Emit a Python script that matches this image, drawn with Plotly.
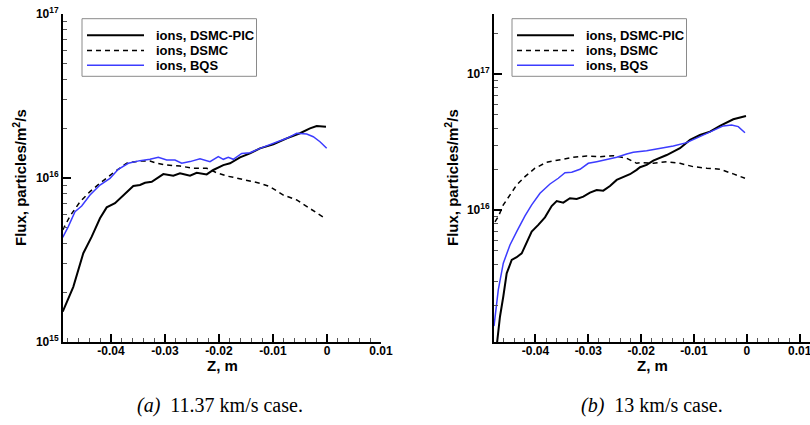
import plotly.graph_objects as go

# ---------------- data: panel (a) 11.37 km/s ----------------
z_pic_a = [-0.04894, -0.04698, -0.04513, -0.04357, -0.04204, -0.04080, -0.03926, -0.03802,
           -0.03587, -0.03463, -0.03370, -0.03246, -0.03031, -0.02846, -0.02722, -0.02537,
           -0.02413, -0.02228, -0.02106, -0.01920, -0.01796, -0.01611, -0.01426, -0.01241,
           -0.00994, -0.00746, -0.00500, -0.00315, -0.00191, -0.00019]
flux_pic_a = [1.53e15, 2.17e15, 3.48e15, 4.39e15, 5.68e15, 6.62e15, 7.02e15, 7.69e15,
              8.93e15, 9.06e15, 9.35e15, 9.48e15, 1.057e16, 1.033e16, 1.069e16, 1.033e16,
              1.076e16, 1.052e16, 1.119e16, 1.199e16, 1.230e16, 1.337e16, 1.413e16, 1.517e16,
              1.603e16, 1.746e16, 1.875e16, 2.009e16, 2.075e16, 2.056e16]

z_dsmc_a = [-0.04894, -0.04759, -0.04574, -0.04389, -0.04204, -0.03957, -0.03709, -0.03463,
            -0.03278, -0.03154, -0.02969, -0.02722, -0.02476, -0.02228, -0.02043, -0.01857,
            -0.01735, -0.01487, -0.01241, -0.01056, -0.00809, -0.00561, -0.00315, -0.00037]
flux_dsmc_a = [4.82e15, 5.86e15, 7.16e15, 8.26e15, 9.29e15, 1.076e16, 1.230e16, 1.271e16,
               1.271e16, 1.230e16, 1.199e16, 1.183e16, 1.146e16, 1.146e16, 1.076e16, 1.028e16,
               1.009e16, 9.73e15, 9.29e15, 8.85e15, 7.87e15, 7.35e15, 6.53e15, 5.68e15]

z_bqs_a = [-0.04894, -0.04791, -0.04667, -0.04543, -0.04389, -0.04204, -0.04019, -0.03865,
           -0.03680, -0.03463, -0.03278, -0.03124, -0.02969, -0.02815, -0.02691, -0.02537,
           -0.02352, -0.02167, -0.02013, -0.01920, -0.01828, -0.01735, -0.01580, -0.01426,
           -0.01241, -0.00994, -0.00746, -0.00561, -0.00376, -0.00254, -0.00130, -0.00006]
flux_bqs_a = [4.35e15, 5.05e15, 6.24e15, 6.75e15, 7.87e15, 9.06e15, 9.95e15, 1.130e16,
              1.230e16, 1.276e16, 1.300e16, 1.337e16, 1.288e16, 1.288e16, 1.230e16, 1.259e16,
              1.312e16, 1.259e16, 1.349e16, 1.300e16, 1.337e16, 1.300e16, 1.413e16, 1.426e16,
              1.517e16, 1.626e16, 1.746e16, 1.875e16, 1.854e16, 1.786e16, 1.663e16, 1.517e16]

# ---------------- data: panel (b) 13 km/s ----------------
z_pic_b = [-0.04733, -0.04671, -0.04608, -0.04544, -0.04449, -0.04355, -0.04260, -0.04166,
           -0.04071, -0.03946, -0.03820, -0.03693, -0.03598, -0.03473, -0.03347, -0.03220,
           -0.03095, -0.02968, -0.02842, -0.02717, -0.02590, -0.02463, -0.02338, -0.02212,
           -0.02085, -0.02022, -0.01896, -0.01771, -0.01517, -0.01266, -0.01076, -0.00887,
           -0.00698, -0.00509, -0.00257, -0.00017]
flux_pic_b = [1.0e15, 1.64e15, 2.31e15, 3.42e15, 4.29e15, 4.49e15, 4.80e15, 5.69e15,
              6.93e15, 7.76e15, 8.83e15, 1.069e16, 1.164e16, 1.132e16, 1.219e16, 1.205e16,
              1.253e16, 1.340e16, 1.403e16, 1.387e16, 1.500e16, 1.663e16, 1.738e16, 1.831e16,
              1.972e16, 2.061e16, 2.143e16, 2.307e16, 2.535e16, 2.844e16, 3.273e16, 3.556e16,
              3.767e16, 4.150e16, 4.645e16, 4.909e16]

z_dsmc_b = [-0.04766, -0.04703, -0.04608, -0.04482, -0.04355, -0.04198, -0.04009, -0.03787,
            -0.03536, -0.03284, -0.03031, -0.02779, -0.02527, -0.02274, -0.02085, -0.02022,
            -0.01771, -0.01517, -0.01266, -0.01014, -0.00760, -0.00509, -0.00257, -0.00036]
flux_dsmc_b = [8.17e15, 8.93e15, 1.089e16, 1.288e16, 1.528e16, 1.758e16, 2.028e16, 2.244e16,
               2.333e16, 2.438e16, 2.495e16, 2.466e16, 2.506e16, 2.399e16, 2.203e16, 2.228e16,
               2.203e16, 2.265e16, 2.203e16, 2.080e16, 2.028e16, 1.991e16, 1.841e16, 1.710e16]

z_bqs_b = [-0.04784, -0.04703, -0.04608, -0.04482, -0.04355, -0.04198, -0.04071, -0.03914,
           -0.03725, -0.03568, -0.03441, -0.03314, -0.03157, -0.03000, -0.02842, -0.02652,
           -0.02463, -0.02274, -0.02149, -0.01896, -0.01644, -0.01392, -0.01139, -0.00887,
           -0.00636, -0.00446, -0.00288, -0.00163, -0.00036]
flux_bqs_b = [1.40e15, 2.58e15, 4.06e15, 5.53e15, 6.93e15, 9.04e15, 1.089e16, 1.327e16,
              1.552e16, 1.710e16, 1.879e16, 1.892e16, 1.991e16, 2.203e16, 2.265e16, 2.360e16,
              2.438e16, 2.582e16, 2.655e16, 2.729e16, 2.844e16, 2.958e16, 3.126e16, 3.459e16,
              3.873e16, 4.150e16, 4.217e16, 4.102e16, 3.698e16]

# ---------------- ticks / labels ----------------
series_names = ["ions, DSMC-PIC", "ions, DSMC", "ions, BQS"]
x_tick_vals = [-0.04, -0.03, -0.02, -0.01, 0.0, 0.01]
x_tick_text = ["-0.04", "-0.03", "-0.02", "-0.01", "0", "0.01"]
x_minor_vals = [-0.048, -0.046, -0.044, -0.042, -0.038, -0.036, -0.034, -0.032,
                -0.028, -0.026, -0.024, -0.022, -0.018, -0.016, -0.014, -0.012,
                -0.008, -0.006, -0.004, -0.002, 0.002, 0.004, 0.006, 0.008, 0.012]
y_tick_vals = [1e15, 1e16, 1e17]
y_tick_text = ["10<sup>15</sup>", "10<sup>16</sup>", "10<sup>17</sup>"]
y_minor_vals = [m * 10 ** e for e in (15, 16, 17) for m in range(2, 10)]
captions = ["<i>(a)</i>  11.37 km/s case.", "<i>(b)</i>  13 km/s case."]
x_title = "Z, m"
y_title = "Flux, particles/m<sup>2</sup>/s"

W, H = 810, 425
SANS = "Liberation Sans"
BLUE = "#3c3cff"
STYLES = [dict(color="black", width=2),
          dict(color="black", width=1.5, dash="5px,4px"),
          dict(color=BLUE, width=1.5)]

fig = go.Figure()

def add_panel(zs, fl, xa, ya):
    for name, z, f, st in zip(series_names, zs, fl, STYLES):
        fig.add_trace(go.Scatter(x=z, y=f, mode="lines", name=name, line=st,
                                 xaxis=xa, yaxis=ya, showlegend=False))

add_panel([z_pic_a, z_dsmc_a, z_bqs_a], [flux_pic_a, flux_dsmc_a, flux_bqs_a], "x", "y")
add_panel([z_pic_b, z_dsmc_b, z_bqs_b], [flux_pic_b, flux_dsmc_b, flux_bqs_b], "x2", "y2")

tickfont = dict(family=SANS, size=12, color="black", weight="bold")

def xaxis(domain, rng, anchor):
    return dict(domain=domain, range=rng, anchor=anchor, showline=True, linecolor="black",
                linewidth=2, ticks="inside", ticklen=8, tickwidth=2, tickcolor="black",
                tickmode="array", tickvals=x_tick_vals, ticktext=x_tick_text,
                minor=dict(tickmode="array", tickvals=x_minor_vals, ticks="inside",
                           ticklen=4, tickwidth=1, tickcolor="#555"),
                showgrid=False, zeroline=False, tickfont=tickfont, automargin=False,
                ticklabeloverflow="allow", ticklabelstandoff=-3)

def yaxis(domain, rng, anchor):
    return dict(domain=domain, range=rng, anchor=anchor, type="log", showline=True,
                linecolor="black", linewidth=2, ticks="inside", ticklen=8, tickwidth=2,
                tickcolor="black", tickmode="array", tickvals=y_tick_vals, ticktext=y_tick_text,
                minor=dict(tickmode="array", tickvals=y_minor_vals, ticks="inside",
                           ticklen=4, tickwidth=1, tickcolor="#555"),
                showgrid=False, zeroline=False, tickfont=tickfont, automargin=False,
                ticklabeloverflow="allow")

ydom = [(H - 342) / H, (H - 14) / H]

fig.update_layout(
    width=W, height=H, margin=dict(l=0, r=0, t=0, b=0, autoexpand=False),
    paper_bgcolor="white", plot_bgcolor="white", showlegend=False,
    xaxis=xaxis([63 / W, 381 / W], [-0.04889, 0.01], "y"),
    yaxis=yaxis(ydom, [15, 17], "x"),
    xaxis2=xaxis([494 / W, 1.0], [-0.04784, 0.01194], "y2"),
    yaxis2=yaxis(ydom, [15.029, 17.441], "x2"),
)

# ---- legend boxes (drawn as in the reference: long line samples, tight rows) ----
shapes = []
annos = []
row_y = [35.3, 50.5, 65.3]
for lx in (82, 512):
    shapes.append(dict(type="rect", xref="paper", yref="paper",
                       x0=lx / W, x1=(lx + 174.5) / W, y0=1 - 76.3 / H, y1=1 - 18.7 / H,
                       line=dict(color="#8a8a8a", width=1), fillcolor="white", layer="above"))
    for ry, name, st in zip(row_y, series_names, STYLES):
        shapes.append(dict(type="line", xref="paper", yref="paper",
                           x0=(lx + 5) / W, x1=(lx + 62) / W, y0=1 - ry / H, y1=1 - ry / H,
                           line=st, layer="above"))
        annos.append(dict(text=name, x=(lx + 72) / W, y=1 - ry / H, xref="paper", yref="paper",
                          xanchor="left", yanchor="middle", showarrow=False,
                          font=dict(family=SANS, size=13, color="black", weight="bold")))

for cx, yx in ((222, 19), (652, 451)):
    annos.append(dict(text=x_title, x=cx / W, y=1 - 365 / H, xref="paper", yref="paper",
                      xanchor="center", yanchor="middle", showarrow=False,
                      font=dict(family=SANS, size=15, color="black", weight="bold")))
    annos.append(dict(text=y_title, x=yx / W, y=1 - 178 / H, xref="paper", yref="paper",
                      xanchor="center", yanchor="middle", textangle=-90, showarrow=False,
                      font=dict(family=SANS, size=15, color="black", weight="bold")))
for cx, cap in zip((220, 652), captions):
    annos.append(dict(text=cap, x=cx / W, y=1 - 405 / H, xref="paper", yref="paper",
                      xanchor="center", yanchor="middle", showarrow=False,
                      font=dict(family="Liberation Serif", size=20, color="black")))
fig.update_layout(shapes=shapes, annotations=annos)

# the page's default 8px body margin would shift the figure; remove it
fig.write_html("out.html", config={"displayModeBar": False},
               post_script="document.body.style.margin='0';")
